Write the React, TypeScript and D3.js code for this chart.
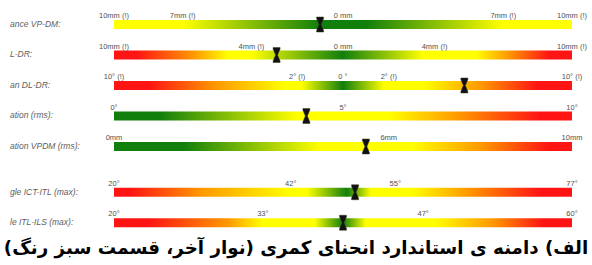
import { useEffect, useRef } from 'react';
import * as d3 from 'd3';

// row labels (cropped on the left in the source)
const rowLabels = [
  'ance VP-DM:',
  'L-DR:',
  'an DL-DR:',
  'ation (rms):',
  'ation VPDM (rms):',
  'gle ICT-ITL (max):',
  'le ITL-ILS (max):',
];

const domains = [
  [-10, 10],
  [-10, 10],
  [-10, 10],
  [0, 10],
  [0, 10],
  [20, 77],
  [20, 60],
];

const tickValues = [
  [-10, -7, 0, 7, 10],
  [-10, -4, 0, 4, 10],
  [-10, -2, 0, 2, 10],
  [0, 5, 10],
  [0, 6, 10],
  [20, 42, 55, 77],
  [20, 33, 47, 60],
];

const tickLabels = [
  ['10mm (!)', '7mm (!)', '0 mm', '7mm (!)', '10mm (!)'],
  ['10mm (!)', '4mm (!)', '0 mm', '4mm (!)', '10mm (!)'],
  ['10° (!)', '2° (!)', '0 °', '2° (!)', '10° (!)'],
  ['0°', '5°', '10°'],
  ['0mm', '6mm', '10mm'],
  ['20°', '42°', '55°', '77°'],
  ['20°', '33°', '47°', '60°'],
];

const markerValues = [-1.0, -2.9, 5.3, 4.2, 5.5, 50, 40];

// colour zones: [value, zone]
const zoneStops = [
  [[-10, 'Y'], [-7, 'Y'], [-1, 'G'], [0, 'G'], [1, 'G'], [7, 'Y'], [10, 'Y']],
  [[-10, 'R'], [-9, 'R'], [-6.5, 'O'], [-5, 'Y'], [-4, 'Y'], [0, 'G'], [3.5, 'Y'], [5.8, 'Y'], [7.2, 'O'], [9, 'R'], [10, 'R']],
  [[-10, 'R'], [-8.5, 'R'], [-5.5, 'O'], [-2.5, 'Y'], [-1.8, 'Y'], [0, 'G'], [1.8, 'Y'], [3.5, 'Y'], [6, 'O'], [8.5, 'R'], [10, 'R']],
  [[0, 'G'], [1, 'G'], [4, 'Y'], [6, 'Y'], [7.5, 'O'], [9.3, 'R'], [10, 'R']],
  [[0, 'G'], [1.5, 'G'], [4.5, 'Y'], [6.5, 'Y'], [8, 'O'], [9.5, 'R'], [10, 'R']],
  [[20, 'R'], [22, 'R'], [31, 'O'], [42, 'Y'], [44, 'Y'], [49, 'G'], [52, 'Y'], [57, 'Y'], [64, 'O'], [73, 'R'], [77, 'R']],
  [[20, 'R'], [23, 'R'], [30, 'O'], [33, 'Y'], [37.5, 'Y'], [40, 'G'], [42, 'Y'], [48, 'Y'], [53, 'O'], [57.5, 'R'], [60, 'R']],
];

const caption = 'الف) دامنه ی استاندارد انحنای کمری (نوار آخر، قسمت سبز رنگ)';

const zoneColor = { G: '#117f0c', Y: '#ffff00', O: '#ff9a00', R: '#ff1414' };

const App = () => {
  const svgRef = useRef(null);

  useEffect(() => {
    const width = 592;
    const height = 265;
    const margin = { top: 20, left: 114, right: 20 };
    const barH = 9;
    const groupBreak = 5; // extra space before the angle rows

    const svg = d3.select(svgRef.current).attr('width', width).attr('height', height);
    svg.selectAll('*').remove();

    const slot = (i) => i + (i >= groupBreak ? 0.5 : 0);
    const y = d3.scaleLinear().domain([0, 1]).range([margin.top, margin.top + 30.5]);

    const defs = svg.append('defs');

    rowLabels.forEach((label, i) => {
      const x = d3.scaleLinear().domain(domains[i]).range([margin.left, width - margin.right]);
      const top = y(slot(i));
      const [x0, x1] = x.range();

      const grad = defs.append('linearGradient')
        .attr('id', `grad-${i}`)
        .attr('gradientUnits', 'userSpaceOnUse')
        .attr('x1', x0).attr('x2', x1)
        .attr('y1', 0).attr('y2', 0);
      grad.selectAll('stop')
        .data(zoneStops[i])
        .enter().append('stop')
        .attr('offset', d => (x(d[0]) - x0) / (x1 - x0))
        .attr('stop-color', d => zoneColor[d[1]]);

      const g = svg.append('g');

      g.append('text')
        .attr('x', 10)
        .attr('y', top + barH / 2)
        .attr('dominant-baseline', 'middle')
        .style('font-family', 'Liberation Sans, Arial, sans-serif')
        .style('font-style', 'italic')
        .style('font-size', '8.5px')
        .style('fill', '#5e5e5e')
        .text(label);

      g.append('rect')
        .attr('x', x0)
        .attr('y', top)
        .attr('width', x1 - x0)
        .attr('height', barH)
        .attr('fill', `url(#grad-${i})`);

      g.selectAll('.tick')
        .data(tickValues[i])
        .enter().append('text')
        .attr('class', 'tick')
        .attr('x', d => x(d))
        .attr('y', top - 2)
        .attr('text-anchor', 'middle')
        .style('font-family', 'Liberation Sans, Arial, sans-serif')
        .style('font-size', '7.5px')
        .style('fill', '#505050')
        .text((d, j) => tickLabels[i][j]);

      // hourglass marker
      const mx = x(markerValues[i]);
      const mTop = top - 3;
      const mBot = top + barH + 3;
      const mid = (mTop + mBot) / 2;
      const hw = 3.5;
      const path = d3.path();
      path.moveTo(mx - hw, mTop);
      path.lineTo(mx + hw, mTop);
      path.lineTo(mx + hw, mTop + 1.5);
      path.lineTo(mx + 1, mid);
      path.lineTo(mx + hw, mBot - 1.5);
      path.lineTo(mx + hw, mBot);
      path.lineTo(mx - hw, mBot);
      path.lineTo(mx - hw, mBot - 1.5);
      path.lineTo(mx - 1, mid);
      path.lineTo(mx - hw, mTop + 1.5);
      path.closePath();
      g.append('path')
        .attr('d', path.toString())
        .attr('fill', '#111')
        .attr('stroke', '#3a3a1a')
        .attr('stroke-width', 0.5);
    });

    svg.append('text')
      .attr('x', width / 2)
      .attr('y', 254)
      .attr('text-anchor', 'middle')
      .attr('direction', 'rtl')
      .style('font-family', 'DejaVu Sans, sans-serif')
      .style('font-weight', 'bold')
      .style('font-size', '18.3px')
      .style('fill', '#000')
      .text(caption);
  }, []);

  return (
    <svg ref={svgRef} style={{ position: 'absolute', left: 0, top: 0 }}></svg>
  );
};

export default App;
